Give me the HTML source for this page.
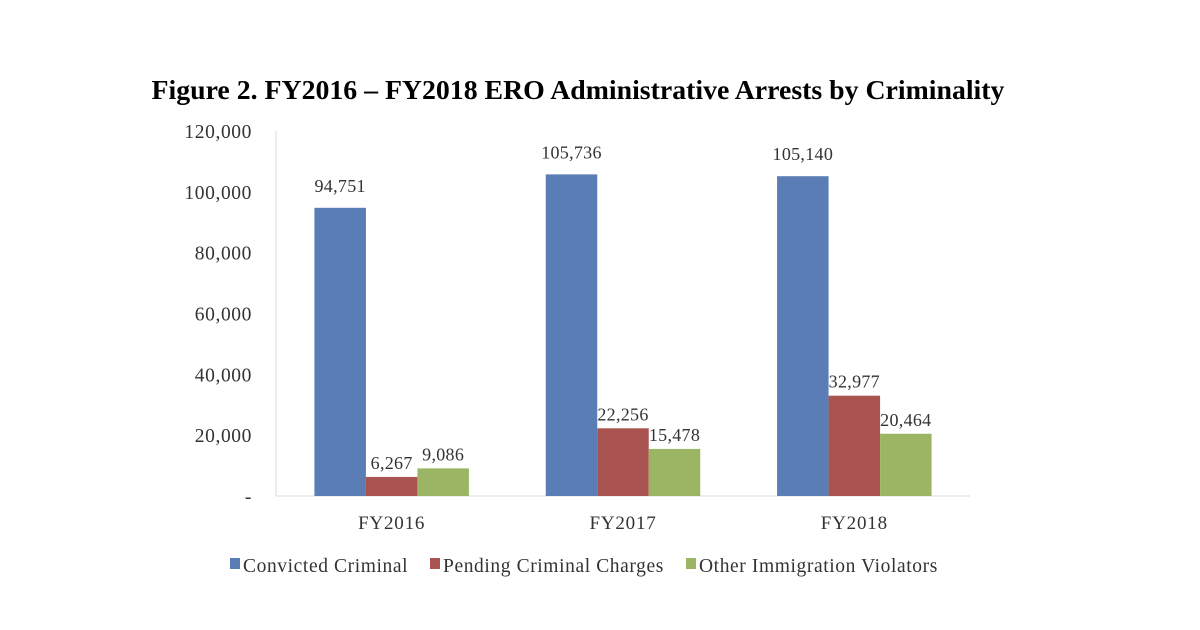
<!DOCTYPE html>
<html><head><meta charset="utf-8"><style>
body{margin:0;background:#fff;width:1200px;height:625px;overflow:hidden}
text{font-family:"Liberation Serif",serif;fill:#333}
</style></head><body>
<svg width="1200" height="625">
<text x="578" y="99" text-anchor="middle" font-size="27.8" font-weight="bold" style="fill:#000">Figure 2. FY2016 – FY2018 ERO Administrative Arrests by Criminality</text>
<g id="axes"></g><g id="bars"></g><g id="legend"></g>
</svg>
<script>
const categories=["FY2016","FY2017","FY2018"];
const convicted=[94751,105736,105140];
const pending=[6267,22256,32977];
const other=[9086,15478,20464];
const yTicks=[0,20000,40000,60000,80000,100000,120000];
const yTickLabels=["-","20,000","40,000","60,000","80,000","100,000","120,000"];
const seriesNames=["Convicted Criminal","Pending Criminal Charges","Other Immigration Violators"];
const colors=["#5b7db5","#a95450","#9bb565"];
const NS="http://www.w3.org/2000/svg";
const x0=276,x1=970,y0=496,yTop=131;
const y=v=>y0-(v/120000)*(y0-yTop);
const bw=(x1-x0)/categories.length;
const xc=i=>x0+bw*(i+0.5);
function mk(t,a,p){const e=document.createElementNS(NS,t);for(const k in a)e.setAttribute(k,a[k]);p.appendChild(e);return e;}
const ax=document.getElementById('axes');
yTicks.forEach((t,i)=>{const e=mk('text',{x:252,y:y(t)+7,'text-anchor':'end','font-size':19.5,'letter-spacing':0.6},ax);e.textContent=yTickLabels[i];

});
const ya=mk('line',{x1:x0,y1:yTop,x2:x0,y2:y0,stroke:'#d9d9d9'},ax);


const xa=mk('line',{x1:x0,y1:y0,x2:x1,y2:y0,stroke:'#d9d9d9'},ax);


categories.forEach((c,i)=>{const e=mk('text',{x:xc(i),y:529,'text-anchor':'middle','font-size':19,'letter-spacing':0.8},ax);e.textContent=c;

});
const bg=document.getElementById('bars');
const series=[convicted,pending,other];
const w=51.5;
series.forEach((s,si)=>s.forEach((v,i)=>{
const bx=xc(i)-1.5*w+si*w;
const r=mk('rect',{x:bx,y:y(v),width:w,height:y0-y(v),fill:colors[si]},bg);


const t=mk('text',{x:bx+w/2,y:y(v)-(si==0?16:8),'text-anchor':'middle','font-size':18,'letter-spacing':0.3},bg);t.textContent=v.toLocaleString('en-US');


}));
const lg=document.getElementById('legend');
const lx=[230,430,686];
seriesNames.forEach((n,i)=>{
const g=mk('g',{},lg);


mk('rect',{x:lx[i],y:558,width:10,height:11,fill:colors[i]},g);
const t=mk('text',{x:lx[i]+13,y:572,'font-size':19.5,'letter-spacing':0.6},g);t.textContent=n;});
</script>
</body></html>
